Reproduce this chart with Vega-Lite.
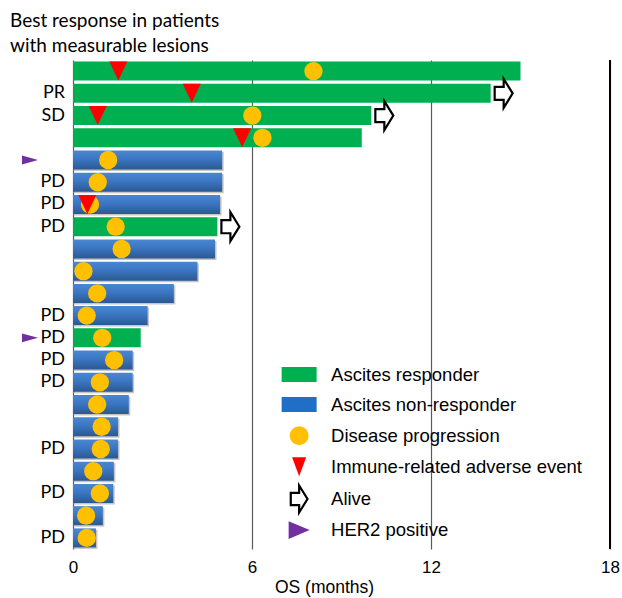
{
  "$schema": "https://vega.github.io/schema/vega-lite/v6.json",
  "width": 537,
  "height": 489,
  "autosize": "none",
  "padding": {"left": 73, "top": 60, "right": 12, "bottom": 49},
  "background": "white",
  "config": {"view": {"stroke": null}},
  "title": {
    "text": ["Best response in patients", "with measurable lesions"],
    "anchor": "start",
    "frame": "group",
    "dx": -63,
    "dy": 22,
    "offset": 6,
    "baseline": "bottom",
    "lineHeight": 25,
    "font": "Lato",
    "fontSize": 19,
    "fontWeight": "normal",
    "color": "#000000"
  },
  "datasets": {
    "patients": [
      {"pt": 1, "os": 15.0, "group": "Ascites responder", "resp": "", "pd": 8.06, "irae": 1.52, "alive": false, "her2": false},
      {"pt": 2, "os": 14.0, "group": "Ascites responder", "resp": "PR", "pd": null, "irae": 3.98, "alive": true, "her2": false},
      {"pt": 3, "os": 10.0, "group": "Ascites responder", "resp": "SD", "pd": 6.01, "irae": 0.83, "alive": true, "her2": false},
      {"pt": 4, "os": 9.68, "group": "Ascites responder", "resp": "", "pd": 6.35, "irae": 5.67, "alive": false, "her2": false},
      {"pt": 5, "os": 5.0, "group": "Ascites non-responder", "resp": "", "pd": 1.18, "irae": null, "alive": false, "her2": true},
      {"pt": 6, "os": 5.0, "group": "Ascites non-responder", "resp": "PD", "pd": 0.83, "irae": null, "alive": false, "her2": false},
      {"pt": 7, "os": 4.93, "group": "Ascites non-responder", "resp": "PD", "pd": 0.57, "irae": 0.48, "alive": false, "her2": false},
      {"pt": 8, "os": 4.84, "group": "Ascites responder", "resp": "PD", "pd": 1.43, "irae": null, "alive": true, "her2": false},
      {"pt": 9, "os": 4.76, "group": "Ascites non-responder", "resp": "", "pd": 1.63, "irae": null, "alive": false, "her2": false},
      {"pt": 10, "os": 4.17, "group": "Ascites non-responder", "resp": "", "pd": 0.35, "irae": null, "alive": false, "her2": false},
      {"pt": 11, "os": 3.38, "group": "Ascites non-responder", "resp": "", "pd": 0.81, "irae": null, "alive": false, "her2": false},
      {"pt": 12, "os": 2.5, "group": "Ascites non-responder", "resp": "PD", "pd": 0.46, "irae": null, "alive": false, "her2": false},
      {"pt": 13, "os": 2.27, "group": "Ascites responder", "resp": "PD", "pd": 0.98, "irae": null, "alive": false, "her2": true},
      {"pt": 14, "os": 2.0, "group": "Ascites non-responder", "resp": "PD", "pd": 1.38, "irae": null, "alive": false, "her2": false},
      {"pt": 15, "os": 2.0, "group": "Ascites non-responder", "resp": "PD", "pd": 0.9, "irae": null, "alive": false, "her2": false},
      {"pt": 16, "os": 1.87, "group": "Ascites non-responder", "resp": "", "pd": 0.81, "irae": null, "alive": false, "her2": false},
      {"pt": 17, "os": 1.51, "group": "Ascites non-responder", "resp": "", "pd": 0.96, "irae": null, "alive": false, "her2": false},
      {"pt": 18, "os": 1.51, "group": "Ascites non-responder", "resp": "PD", "pd": 0.93, "irae": null, "alive": false, "her2": false},
      {"pt": 19, "os": 1.37, "group": "Ascites non-responder", "resp": "", "pd": 0.68, "irae": null, "alive": false, "her2": false},
      {"pt": 20, "os": 1.35, "group": "Ascites non-responder", "resp": "PD", "pd": 0.9, "irae": null, "alive": false, "her2": false},
      {"pt": 21, "os": 1.0, "group": "Ascites non-responder", "resp": "", "pd": 0.44, "irae": null, "alive": false, "her2": false},
      {"pt": 22, "os": 0.77, "group": "Ascites non-responder", "resp": "PD", "pd": 0.46, "irae": null, "alive": false, "her2": false}
    ],
    "legend": [
      {"key": "Ascites responder", "slot": 14.65},
      {"key": "Ascites non-responder", "slot": 16.0},
      {"key": "Disease progression", "slot": 17.4},
      {"key": "Immune-related adverse event", "slot": 18.8},
      {"key": "Alive", "slot": 20.25},
      {"key": "HER2 positive", "slot": 21.65}
    ]
  },
  "layer": [
    {
      "data": {"name": "patients"},
      "transform": [{"filter": "datum.group === 'Ascites non-responder'"}],
      "mark": {"type": "bar", "height": 19, "color": "#8c8c8c", "opacity": 0.5, "xOffset": 1.5, "yOffset": 1.5},
      "encoding": {
        "y": {
          "field": "pt",
          "type": "quantitative",
          "scale": {"domain": [0.5, 22.5], "reverse": true, "nice": false, "zero": false, "padding": 0},
          "axis": null
        },
        "x": {
          "field": "os",
          "type": "quantitative",
          "scale": {"domain": [0, 18], "nice": false, "zero": true, "padding": 0},
          "axis": {
            "values": [0, 6, 12, 18],
            "title": "OS (months)",
            "titleFont": "Liberation Sans",
            "titleFontSize": 17.5,
            "titleFontWeight": "normal",
            "titleColor": "#000000",
            "titlePadding": 3,
            "titleX": 251,
            "labelFont": "Liberation Sans",
            "labelFontSize": 17,
            "labelColor": "#000000",
            "labelPadding": 10,
            "labelFlush": false,
            "labelOverlap": false,
            "domain": false,
            "ticks": false,
            "grid": true,
            "gridColor": "#5a5a5a",
            "gridWidth": 1.2
          }
        },
        "x2": {"datum": 0}
      }
    },
    {
      "data": {"name": "patients"},
      "transform": [{"filter": "datum.group === 'Ascites non-responder'"}],
      "mark": {
        "type": "bar",
        "height": 19,
        "color": {
          "gradient": "linear",
          "x1": 0, "y1": 0, "x2": 0, "y2": 1,
          "stops": [
            {"offset": 0, "color": "#4a87d2"},
            {"offset": 0.45, "color": "#3b76c2"},
            {"offset": 1, "color": "#2b5893"}
          ]
        }
      },
      "encoding": {
        "y": {"field": "pt", "type": "quantitative"},
        "x": {"field": "os", "type": "quantitative"},
        "x2": {"datum": 0}
      }
    },
    {
      "data": {"name": "patients"},
      "transform": [{"filter": "datum.group === 'Ascites responder'"}],
      "mark": {"type": "bar", "height": 19, "color": "#00b050"},
      "encoding": {
        "y": {"field": "pt", "type": "quantitative"},
        "x": {"field": "os", "type": "quantitative"},
        "x2": {"datum": 0}
      }
    },
    {
      "data": {"name": "patients"},
      "mark": {"type": "rule", "color": "#000000", "strokeWidth": 1.5},
      "encoding": {"x": {"datum": 18, "type": "quantitative"}}
    },
    {
      "data": {"name": "patients"},
      "transform": [{"filter": "datum.pd !== null"}],
      "mark": {"type": "point", "shape": "circle", "size": 335, "filled": true, "color": "#ffc000", "opacity": 1},
      "encoding": {
        "y": {"field": "pt", "type": "quantitative"},
        "x": {"field": "pd", "type": "quantitative"}
      }
    },
    {
      "data": {"name": "patients"},
      "transform": [{"filter": "datum.irae !== null"}],
      "mark": {"type": "point", "shape": "M-0.95,-1H0.95L0,1Z", "size": 361, "filled": true, "color": "#ff0000", "opacity": 1},
      "encoding": {
        "y": {"field": "pt", "type": "quantitative"},
        "x": {"field": "irae", "type": "quantitative"}
      }
    },
    {
      "data": {"name": "patients"},
      "transform": [{"filter": "datum.alive"}],
      "mark": {
        "type": "point",
        "shape": "M-0.62,-0.45L0,-0.45L0,-1L0.62,0L0,1L0,0.45L-0.62,0.45Z",
        "size": 841,
        "filled": true,
        "fill": "#ffffff",
        "stroke": "#000000",
        "strokeWidth": 2.2,
        "opacity": 1,
        "xOffset": 13
      },
      "encoding": {
        "y": {"field": "pt", "type": "quantitative"},
        "x": {"field": "os", "type": "quantitative"}
      }
    },
    {
      "data": {"name": "patients"},
      "transform": [{"filter": "datum.her2"}],
      "mark": {"type": "point", "shape": "M-1,-0.55L1,0L-1,0.55Z", "size": 256, "filled": true, "color": "#7030a0", "opacity": 1, "xOffset": -43},
      "encoding": {
        "y": {"field": "pt", "type": "quantitative"},
        "x": {"datum": 0, "type": "quantitative"}
      }
    },
    {
      "data": {"name": "patients"},
      "mark": {"type": "text", "align": "right", "baseline": "middle", "dx": -8, "font": "Lato", "fontSize": 18, "color": "#000000"},
      "encoding": {
        "y": {"field": "pt", "type": "quantitative"},
        "x": {"datum": 0, "type": "quantitative"},
        "text": {"field": "resp"}
      }
    },
    {
      "data": {"name": "legend"},
      "transform": [{"filter": "datum.key === 'Ascites responder'"}],
      "mark": {"type": "point", "shape": "M-1,-0.43H1V0.43H-1Z", "size": 1225, "filled": true, "color": "#00b050", "opacity": 1},
      "encoding": {"x": {"datum": 7.58, "type": "quantitative"}, "y": {"field": "slot", "type": "quantitative"}}
    },
    {
      "data": {"name": "legend"},
      "transform": [{"filter": "datum.key === 'Ascites non-responder'"}],
      "mark": {"type": "point", "shape": "M-1,-0.43H1V0.43H-1Z", "size": 1225, "filled": true, "color": "#1f6fc6", "opacity": 1},
      "encoding": {"x": {"datum": 7.58, "type": "quantitative"}, "y": {"field": "slot", "type": "quantitative"}}
    },
    {
      "data": {"name": "legend"},
      "transform": [{"filter": "datum.key === 'Disease progression'"}],
      "mark": {"type": "point", "shape": "circle", "size": 361, "filled": true, "color": "#ffc000", "opacity": 1},
      "encoding": {"x": {"datum": 7.58, "type": "quantitative"}, "y": {"field": "slot", "type": "quantitative"}}
    },
    {
      "data": {"name": "legend"},
      "transform": [{"filter": "datum.key === 'Immune-related adverse event'"}],
      "mark": {"type": "point", "shape": "M-0.74,-1H0.74L0,1Z", "size": 361, "filled": true, "color": "#ff0000", "opacity": 1},
      "encoding": {"x": {"datum": 7.58, "type": "quantitative"}, "y": {"field": "slot", "type": "quantitative"}}
    },
    {
      "data": {"name": "legend"},
      "transform": [{"filter": "datum.key === 'Alive'"}],
      "mark": {
        "type": "point",
        "shape": "M-0.62,-0.45L0,-0.45L0,-1L0.62,0L0,1L0,0.45L-0.62,0.45Z",
        "size": 729,
        "filled": true,
        "fill": "#ffffff",
        "stroke": "#000000",
        "strokeWidth": 2.2,
        "opacity": 1
      },
      "encoding": {"x": {"datum": 7.58, "type": "quantitative"}, "y": {"field": "slot", "type": "quantitative"}}
    },
    {
      "data": {"name": "legend"},
      "transform": [{"filter": "datum.key === 'HER2 positive'"}],
      "mark": {"type": "point", "shape": "M-1,-0.85L1,0L-1,0.85Z", "size": 441, "filled": true, "color": "#7030a0", "opacity": 1},
      "encoding": {"x": {"datum": 7.58, "type": "quantitative"}, "y": {"field": "slot", "type": "quantitative"}}
    },
    {
      "data": {"name": "legend"},
      "mark": {"type": "text", "align": "left", "baseline": "middle", "font": "Liberation Sans", "fontSize": 18.5, "color": "#000000"},
      "encoding": {
        "x": {"datum": 8.65, "type": "quantitative"},
        "y": {"field": "slot", "type": "quantitative"},
        "text": {"field": "key"}
      }
    }
  ]
}
